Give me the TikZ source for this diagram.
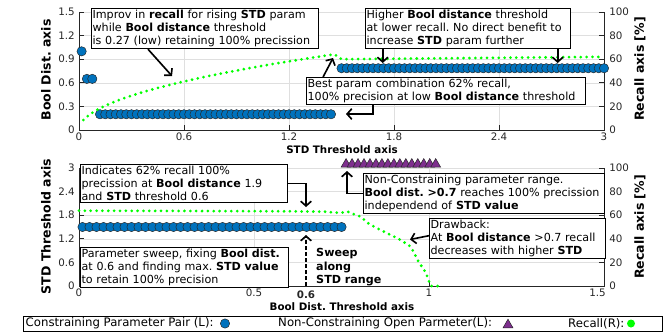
\documentclass[tikz,border=0pt]{standalone}
\usepackage{fontspec}
\setmainfont{DejaVu Sans}
\usetikzlibrary{arrows.meta,calc}

\definecolor{mblue}{RGB}{0,114,189}
\definecolor{mpurple}{RGB}{126,47,142}
\definecolor{mgreen}{RGB}{0,255,0}
\definecolor{axgray}{RGB}{38,38,38}
\definecolor{gridgray}{RGB}{223,223,223}

\newcommand{\notefont}{\fontsize{9.5}{11.1}\selectfont\frenchspacing\hyphenpenalty 10000\relax}

\tikzset{
  axisline/.style={axgray, line width=0.75pt},
  gridline/.style={gridgray, line width=0.5pt},
  ticklbl/.style={text=axgray, font=\fontsize{8.8}{10}\selectfont, inner sep=0pt},
  axlbl/.style={font=\fontsize{8.8}{10}\selectfont\bfseries, inner sep=0pt},
  vaxlbl/.style={font=\fontsize{10.7}{12}\selectfont\bfseries, inner sep=0pt, rotate=90},
  notebox/.style={draw=black, line width=0.75pt, fill=white, align=left, inner xsep=1pt, inner ysep=1.5pt,
    font=\notefont, anchor=north west},
  legtext/.style={font=\fontsize{10}{12}\selectfont, inner sep=0pt},
  arr/.style={-{Straight Barb[length=4pt,width=9pt]}, line width=1.4pt},
  bdot/.style={fill=mblue, draw=black!85, line width=0.4pt},
  tmark/.style={fill=mpurple, draw=black!85, line width=0.4pt},
  recall/.style={mgreen, line width=2.6pt, line cap=round, dash pattern=on 0pt off 5pt},
}

\begin{document}
\frenchspacing
\begin{tikzpicture}[x=0.03cm, y=-0.03cm]
\useasboundingbox (0,0) rectangle (667,333);

% upper plot, left axis
\begin{scope}[shift={(79,130)}, x=5.25cm, y=2.36cm]
\foreach \x in {0.6,1.2,1.8,2.4} \draw[gridline] (\x,0) -- (\x,1.5);
\foreach \y in {0.3,0.6,0.9,1.2,1.5} \draw[gridline] (0,\y) -- (3,\y);
\draw[axisline] (0,1.5) -- (0,0) -- (3,0) -- (3,1.5);
\foreach \y [count=\k] in {0,0.3,0.6,0.9,1.2,1.5} {
  \draw[axisline] (0,\y) -- ++(0.15cm,0);
  \node[ticklbl, anchor=east] (tly\k) at ([xshift=-0.12cm]0,\y) {\y};
}
\foreach \x [count=\k] in {0,0.6,1.2,1.8,2.4,3} {
  \draw[axisline] (\x,0) -- ++(0,0.15cm);
  \node[ticklbl, anchor=north] (tlx\k) at ([yshift=-0.08cm]\x,0) {\x};
}
\foreach \x in {0.015} \filldraw[bdot] (\x,1.0) circle[radius=0.14cm];
\foreach \x in {0.045,0.076} \filldraw[bdot] (\x,0.65) circle[radius=0.14cm];
\foreach \i in {0,...,44} \filldraw[bdot] ({0.12+0.03*\i},0.2) circle[radius=0.14cm];
\foreach \i in {0,...,50} \filldraw[bdot] ({1.5+0.03*\i},0.785) circle[radius=0.14cm];
\end{scope}

% upper plot, right axis
\begin{scope}[shift={(79,130)}, x=5.25cm, y=0.0354cm]
\foreach \r [count=\k] in {0,20,...,100} {
  \draw[axisline] (3,\r) -- ++(-0.15cm,0);
  \node[ticklbl, anchor=west] (try\k) at ([xshift=0.15cm]3,\r) {\r};
}
\draw[recall] plot[domain=0.025:1.46, samples=50] (\x,{53.1*sqrt(\x)}) -- (1.5,60) -- (3,62);
\end{scope}

\node[vaxlbl] (toplabl) at (46,70) {Bool Dist. axis};
\node[vaxlbl] (toplabr) at (640,69) {Recall axis [\%]};
\node[axlbl] (toplabx) at (342,150) {STD Threshold axis};

% lower plot, left axis
\begin{scope}[shift={(79,286)}, x=10.5cm, y=1.18cm]
\foreach \x in {0.5,1} \draw[gridline] (\x,0) -- (\x,3);
\foreach \y in {0.6,1.2,1.8,2.4,3} \draw[gridline] (0,\y) -- (1.5,\y);
\draw[axisline] (0,3) -- (0,0) -- (1.5,0) -- (1.5,3);
\foreach \y [count=\k] in {0,0.6,1.2,1.8,2.4,3} {
  \draw[axisline] (0,\y) -- ++(0.15cm,0);
  \node[ticklbl, anchor=east] (bly\k) at ([xshift=-0.12cm]0,\y) {\y};
}
\foreach \x [count=\k] in {0,0.5,1} {
  \draw[axisline] (\x,0) -- ++(0,0.15cm);
  \node[ticklbl, anchor=north] (blx\k) at ([yshift=-0.08cm]\x,0) {\x};
}
\draw[axisline] (1.5,0) -- ++(0,0.15cm);
\node[ticklbl, anchor=north east] (blx4) at ([xshift=0.06cm, yshift=-0.08cm]1.5,0) {1.5};
\foreach \i in {0,...,37} \filldraw[bdot] ({0.01+0.02*\i},1.5) circle[radius=0.14cm];
\foreach \i in {0,...,15}
  \filldraw[tmark] ({0.763+0.01707*\i},3.13) ++(-0.15cm,-0.13cm) -- ++(0.3cm,0) -- ++(-0.15cm,0.26cm) -- cycle;
\end{scope}

% lower plot, right axis
\begin{scope}[shift={(79,286)}, x=10.5cm, y=0.0354cm]
\foreach \r [count=\k] in {0,20,...,100} {
  \draw[axisline] (1.5,\r) -- ++(-0.15cm,0);
  \node[ticklbl, anchor=west] (bry\k) at ([xshift=0.15cm]1.5,\r) {\r};
}
\draw[recall] (0,63.8) -- (0.3,63.6) -- (0.6,63.3) -- (0.7,63) -- (0.747,62) -- (0.767,63)
  -- (0.805,58.7) -- (0.829,52.5) -- (0.858,48) -- (0.891,43.2) -- (0.919,39)
  -- (0.948,33.3) -- (0.97,20.6) -- (0.991,11.3) -- (1.005,0) -- (1.03,0);
\end{scope}

\node[ticklbl, font=\fontsize{8.8}{10}\selectfont\bfseries, anchor=north] (blx06) at (306,290.5) {0.6};
\node[vaxlbl] (botlabl) at (46,226.5) {STD Threshold axis};
\node[vaxlbl] (botlabr) at (640,227) {Recall axis [\%]};
\node[axlbl] (botlabx) at (342,307) {Bool Dist. Threshold axis};

% notes, upper plot
\node[notebox, text width=6.74cm] (improv) at (91,8) {Improv in \textbf{recall} for rising \textbf{STD} param\\while \textbf{Bool distance} threshold\\is 0.27 (low) retaining 100\% precission};
\coordinate (improvtip) at (172,76);
\draw[arr] ($(improv.south west)!0.25!(improv.south east)$) -- (improvtip);

\node[notebox, text width=6.08cm] (higher) at (365,8) {Higher \textbf{Bool distance} threshold\\at lower recall. No direct benefit to\\increase \textbf{STD} param further};
\coordinate (highertipa) at (382.7,63);
\coordinate (highertipb) at (557.7,63);
\draw[arr] (highertipa |- higher.south) -- (highertipa);
\draw[arr] (highertipb |- higher.south) -- (highertipb);

\node[notebox, text width=8.30cm] (best) at (306,77) {Best param combination 62\% recall,\\100\% precision at low \textbf{Bool distance} threshold};
\coordinate (besttipa) at (333,58);
\coordinate (bestbend) at (372.7,114);
\coordinate (besttipb) at (346,114);
\draw[arr] ($(best.north west)!0.061!(best.north east)$) -- (besttipa);
\draw[arr] (bestbend |- best.south) -- (bestbend) -- (besttipb);

% notes, lower plot
\node[notebox, text width=6.14cm] (indicates) at (80,164) {Indicates 62\% recall 100\%\\precission at \textbf{Bool distance} 1.9\\and \textbf{STD} threshold 0.6};
\coordinate (indictip) at (306,207);
\draw[arr] (indicates.east) -- (indicates.east -| indictip) -- (indictip);

\node[notebox, text width=6.17cm] (sweepbox) at (80,247) {Parameter sweep, fixing \textbf{Bool dist.}\\at 0.6 and finding max. \textbf{STD value}\\to retain 100\% precision};
\coordinate (sweepfoot) at (306,286);
\coordinate (sweeptip) at (306,235);
\draw[arr, dash pattern=on 3.4pt off 1.7pt] (sweepfoot) -- (sweeptip);
\node[anchor=north west, align=left, font=\fontsize{9.5}{11.1}\selectfont\bfseries, inner sep=0pt] (sweeplbl) at (316,248.5) {Sweep\\along\\STD range};

\node[notebox, text width=7.16cm] (noncon) at (363,173) {Non-Constraining parameter range.\\\textbf{Bool dist. >0.7} reaches 100\% precission\\independend of \textbf{STD value}};
\coordinate (noncontip) at (347,171);
\draw[arr] (noncon.west) -- (noncon.west -| noncontip) -- (noncontip);

\node[notebox, text width=5.21cm] (drawback) at (429,218) {Drawback:\\At \textbf{Bool distance} >0.7 recall\\decreases with higher \textbf{STD}};
\coordinate (drawtip) at (410,239.5);
\draw[arr] ($(drawback.north west)!0.43!(drawback.south west)$) -- (drawtip);

% legend
\node[draw=black, line width=0.75pt, minimum width=19.17cm, minimum height=0.46cm, inner sep=0pt, anchor=north west] (legbox) at (22.7,315.7) {};
\node[legtext, anchor=west] (legcons) at (25.5,323.5) {Constraining Parameter Pair (L):};
\filldraw[bdot] (225,323.5) circle[radius=0.14cm];
\node[legtext, anchor=west] (legopen) at (278,323.5) {Non-Constraining Open Parmeter(L):};
\filldraw[tmark] (508,323.5) ++(-0.15cm,-0.13cm) -- ++(0.3cm,0) -- ++(-0.15cm,0.26cm) -- cycle;
\node[legtext, anchor=west] (legrec) at (568,323.5) {Recall(R):};
\fill[mgreen] (631,323.5) circle[radius=0.12cm];
\end{tikzpicture}
\end{document}
